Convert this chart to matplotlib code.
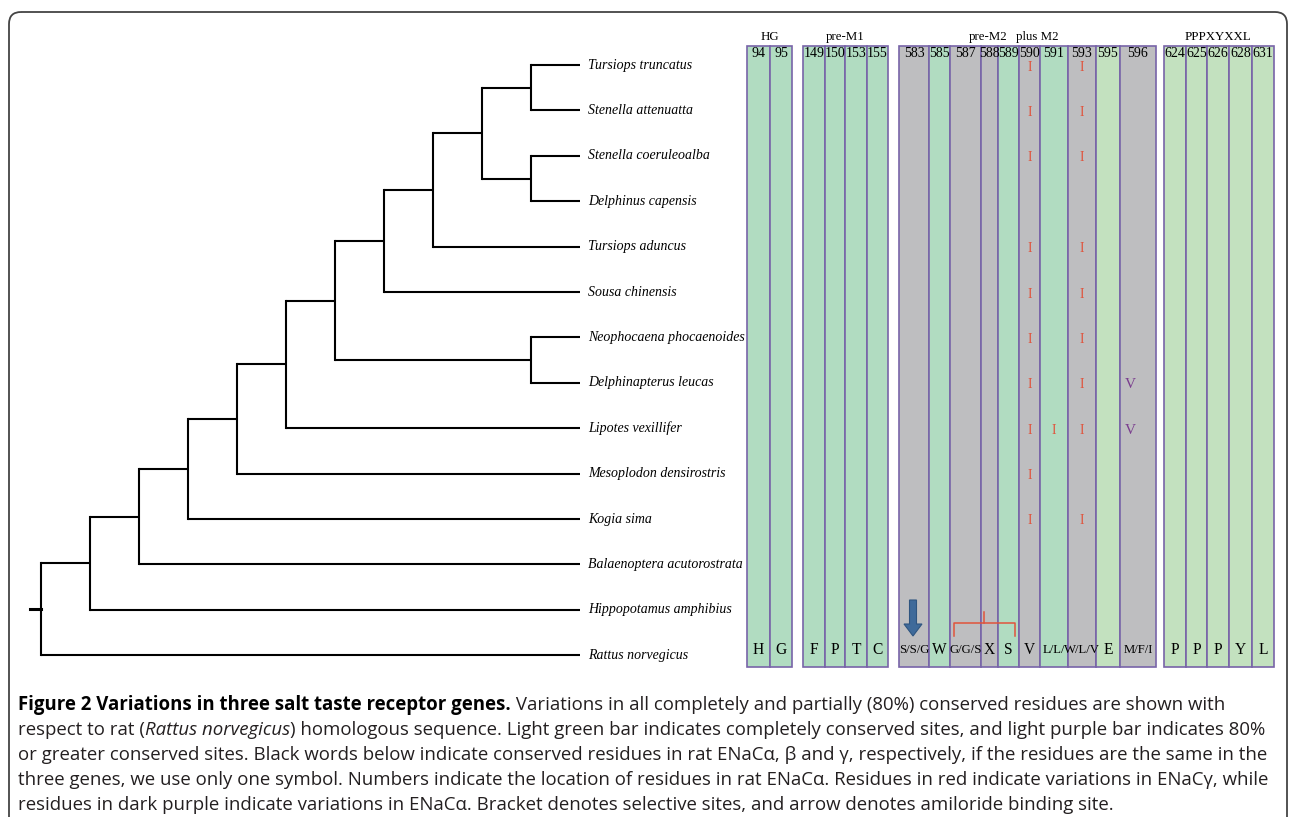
import matplotlib
matplotlib.use("Agg")
import matplotlib.pyplot as plt
from matplotlib.patches import Rectangle, FancyBboxPatch, FancyArrow

# species, top to bottom
species = ["Tursiops truncatus", "Stenella attenuatta", "Stenella coeruleoalba",
           "Delphinus capensis", "Tursiops aduncus", "Sousa chinensis",
           "Neophocaena phocaenoides", "Delphinapterus leucas", "Lipotes vexillifer",
           "Mesoplodon densirostris", "Kogia sima", "Balaenoptera acutorostrata",
           "Hippopotamus amphibius", "Rattus norvegicus"]

# cladogram (top child first)
tree = (((((((((((species[0], species[1]), (species[2], species[3])), species[4]),
               species[5]), (species[6], species[7])), species[8]), species[9]),
           species[10]), species[11]), species[12]), species[13])

# alignment columns
positions = ["94", "95", "149", "150", "153", "155", "583", "585", "587", "588", "589",
             "590", "591", "593", "595", "596", "624", "625", "626", "628", "631"]
rat_residues = ["H", "G", "F", "P", "T", "C", "S/S/G", "W", "G/G/S", "X", "S",
                "V", "L/L/", "W/L/V", "E", "M/F/I", "P", "P", "P", "Y", "L"]
conservation = ["full", "full", "full", "full", "full", "full", "partial", "full",
                "partial", "partial", "full", "partial", "full", "partial", "pale",
                "partial", "pale", "pale", "pale", "pale", "pale"]
group_sizes = [2, 4, 10, 5]
header_labels = ["HG", "pre-M1", "pre-M2", "plus M2", "PPPXYXXL"]

# variations (column -> species)
var_gamma = {
    "590": ["Tursiops truncatus", "Stenella attenuatta", "Stenella coeruleoalba",
            "Tursiops aduncus", "Sousa chinensis", "Neophocaena phocaenoides",
            "Delphinapterus leucas", "Lipotes vexillifer", "Mesoplodon densirostris",
            "Kogia sima"],
    "591": ["Lipotes vexillifer"],
    "593": ["Tursiops truncatus", "Stenella attenuatta", "Stenella coeruleoalba",
            "Tursiops aduncus", "Sousa chinensis", "Neophocaena phocaenoides",
            "Delphinapterus leucas", "Lipotes vexillifer", "Kogia sima"],
}
var_alpha = {"596": ["Delphinapterus leucas", "Lipotes vexillifer"]}
arrow_col = "583"
bracket_cols = ["587", "589"]

caption = [
    [("Figure 2 Variations in three salt taste receptor genes.", "bold"),
     (" Variations in all completely and partially (80%) conserved residues are shown with", "normal")],
    [("respect to rat (", "normal"), ("Rattus norvegicus", "italic"),
     (") homologous sequence. Light green bar indicates completely conserved sites, and light purple bar indicates 80%", "normal")],
    [("or greater conserved sites. Black words below indicate conserved residues in rat ENaC\u03b1, \u03b2 and \u03b3, respectively, if the residues are the same in the", "normal")],
    [("three genes, we use only one symbol. Numbers indicate the location of residues in rat ENaC\u03b1. Residues in red indicate variations in ENaC\u03b3, while", "normal")],
    [("residues in dark purple indicate variations in ENaC\u03b1. Bracket denotes selective sites, and arrow denotes amiloride binding site.", "normal")],
]

# ---- layout (pixels) ----
W, H = 1290, 817
row0, row_step = 65, 45.4
tree_x0, tree_step = 41, 49
label_x = 588
col_widths = [23, 22, 22, 20, 22, 21, 30, 21, 31, 17, 21, 21, 28, 28, 24, 36, 22, 21, 22, 23, 22]
group_x = [747, 803, 899, 1164]
header_x = [770, 845, 988, 1037, 1218]
col_top, col_bot = 46, 667
fills = {"full": "#b1dcc1", "partial": "#bebec0", "pale": "#c3e1bf"}
edge = "#7864a8"
serif = "Liberation Serif"

fig = plt.figure(figsize=(W / 100, H / 100), dpi=100)
ax = fig.add_axes([0, 0, 1, 1])
ax.set_xlim(0, W)
ax.set_ylim(H, 0)
ax.axis("off")

# border
ax.add_patch(FancyBboxPatch((9, 12), 1278, 830, boxstyle="round,pad=0,rounding_size=12",
                            fill=False, ec="#444444", lw=1.3, clip_on=True))

row_y = {s: row0 + i * row_step for i, s in enumerate(species)}


def height(node):
    if isinstance(node, str):
        return 0
    return max(height(c) for c in node) + 1


top_h = height(tree)


def node_x(node):
    return tree_x0 + (top_h - height(node)) * tree_step


def draw(node):
    if isinstance(node, str):
        return row_y[node]
    ys = [draw(c) for c in node]
    xn = node_x(node)
    for c, yc in zip(node, ys):
        ax.plot([xn, node_x(c)], [yc, yc], color="black", lw=1.5, solid_capstyle="butt")
    ax.plot([xn, xn], [ys[0], ys[1]], color="black", lw=1.5, solid_capstyle="projecting")
    return sum(ys) / 2


root_y = draw(tree)
ax.plot([tree_x0 - 11, tree_x0], [root_y, root_y], color="black", lw=2.2)

for s in species:
    ax.text(label_x, row_y[s], s, family=serif, style="italic", fontsize=10.0,
            va="center", ha="left")

# columns
col_center = {}
i = 0
for g, n in enumerate(group_sizes):
    x = group_x[g]
    for k in range(n):
        w = col_widths[i]
        ax.add_patch(Rectangle((x, col_top), w, col_bot - col_top,
                               fc=fills[conservation[i]], ec=edge, lw=1.2))
        col_center[positions[i]] = x + w / 2
        i += 1
        x += w

for lab, hx in zip(header_labels, header_x):
    ax.text(hx, 37, lab, family=serif, fontsize=9.3, ha="center", va="center")

for p, r in zip(positions, rat_residues):
    cx = col_center[p]
    ax.text(cx, 53, p, family=serif, fontsize=10, ha="center", va="center")
    fs = 11.2 if len(r) == 1 else 9.2
    ax.text(cx, 650, r, family=serif, fontsize=fs, ha="center", va="center")

for col, sp in var_gamma.items():
    for s in sp:
        ax.text(col_center[col], row_y[s] + 2, "I", family=serif, fontsize=10,
                color="#e0533c", ha="center", va="center")
for col, sp in var_alpha.items():
    for s in sp:
        ax.text(col_center[col] - 8, row_y[s] + 2, "V", family=serif, fontsize=11,
                color="#7a3d8e", ha="center", va="center")

# amiloride arrow
ax.add_patch(FancyArrow(col_center[arrow_col] - 1, 600, 0, 36, width=7, head_width=18,
                        head_length=12, length_includes_head=True,
                        fc="#3f6a9a", ec="#2f5580", lw=0.8))

# selectivity bracket
bx0 = col_center[bracket_cols[0]] - 12
bx1 = col_center[bracket_cols[1]] + 6
bm = (bx0 + bx1) / 2
ax.plot([bx0, bx0, bx1, bx1], [636, 623, 623, 636], color="#e0533c", lw=1.1)
ax.plot([bm, bm], [623, 612], color="#e0533c", lw=1.1)

# caption, sized so the widest line fits inside the frame
renderer = fig.canvas.get_renderer()
cap_font = "Open Sans"
base_size = 12


def line_width(line, size):
    tot = 0
    for txt, style in line:
        t = ax.text(0, 0, txt, family=cap_font, fontsize=size,
                    weight="bold" if style == "bold" else "normal",
                    style="italic" if style == "italic" else "normal")
        tot += t.get_window_extent(renderer=renderer).width
        t.remove()
    return tot


widest = max(line_width(line, base_size) for line in caption)
cap_size = base_size * 1244 / widest
for li, line in enumerate(caption):
    x = 18
    y = 705 + li * 25
    for txt, style in line:
        kw = dict(family=cap_font, fontsize=cap_size, va="center", ha="left",
                  color="#231f20")
        if style == "bold":
            kw["weight"] = "bold"
            kw["color"] = "black"
        elif style == "italic":
            kw["style"] = "italic"
        t = ax.text(x, y, txt, **kw)
        x += t.get_window_extent(renderer=renderer).width

fig.savefig("out.png", dpi=100)
